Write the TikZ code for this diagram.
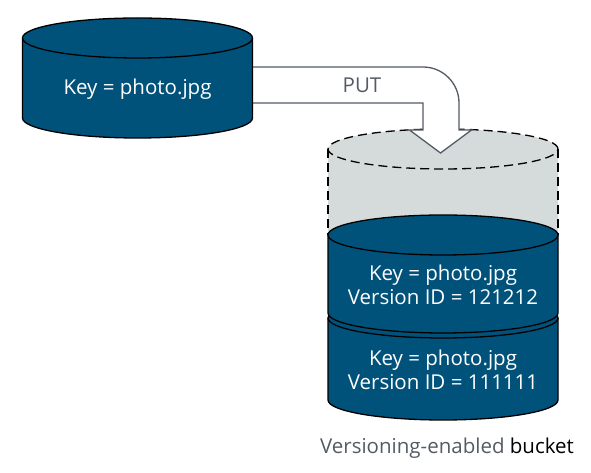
\documentclass[tikz,border=0pt]{standalone}
\usepackage{fontspec}
\setmainfont{Open Sans}
\usetikzlibrary{calc}
\definecolor{bucket-blue}{RGB}{1, 82, 122}
\definecolor{bucket-grey}{RGB}{213, 219, 219}
\definecolor{label-grey}{RGB}{84, 91, 100}

\begin{document}
\begin{tikzpicture}[x=1pt, y=1pt,
    drum/.style={fill=bucket-blue, draw=black, line width=1.3pt},
    drumtext/.style={text=white, align=center, font=\fontsize{20.5}{24}\selectfont},
    ghost/.style={draw=black, line width=1.3pt, dash pattern=on 9pt off 5pt},
    putarrow/.style={fill=white, draw=label-grey, line width=1.3pt}]
            \useasboundingbox (0, 0) rectangle (591, 473);
            % versioning-enabled bucket, empty slot on top
            \fill[bucket-grey] (328, 324) -- (328, 238) arc (180:360:115 and 20) -- (558, 324) arc (0:180:115 and 20) -- cycle;
            \draw[ghost] (443, 324) ellipse (115 and 20);
            \draw[ghost] (328, 324) -- (328, 238);
            \draw[ghost] (558, 324) -- (558, 238);
            % older version
            \filldraw[drum] (328, 155) -- (328, 73) arc (180:360:115 and 20) -- (558, 155) arc (0:180:115 and 20) -- cycle;
            \draw[line width=1.3pt] (328, 155) arc (180:360:115 and 20);
            \node[drumtext] (old-version) at (443, 103) {Key = photo.jpg\\Version ID = 111111};
            % newer version
            \filldraw[drum] (328, 238) -- (328, 160) arc (180:360:115 and 20) -- (558, 238) arc (0:180:115 and 20) -- cycle;
            \draw[line width=1.3pt] (328, 238) arc (180:360:115 and 20);
            \node[drumtext] (new-version) at (443, 188) {Key = photo.jpg\\Version ID = 121212};
            \node[font=\fontsize{20.5}{24}\selectfont] (bucket-label) at (447, 25) {\textcolor{label-grey}{Versioning-enabled} bucket};
            % PUT arrow
            \coordinate (put-from) at (252.5, 388);
            \coordinate (put-to) at (440.5, 320);
            \filldraw[putarrow] ($(put-from)+(0, 18)$) -- (423, 406) arc (90:0:36) -- (459, 343) -- (471.5, 343) -- (put-to)
                -- (409.5, 343) -- (423, 343) -- (423, 370) -- ($(put-from)+(0, -18)$);
            \node[text=label-grey, font=\fontsize{20.5}{24}\selectfont] (put-label) at (362, 388) {PUT};
            % source object
            \filldraw[drum] (22.5, 435) -- (22.5, 355) arc (180:360:115 and 20) -- (252.5, 435) arc (0:180:115 and 20) -- cycle;
            \draw[line width=1.3pt] (22.5, 435) arc (180:360:115 and 20);
            \node[drumtext] (source) at (137.5, 384) {Key = photo.jpg};
        \end{tikzpicture}
\end{document}
